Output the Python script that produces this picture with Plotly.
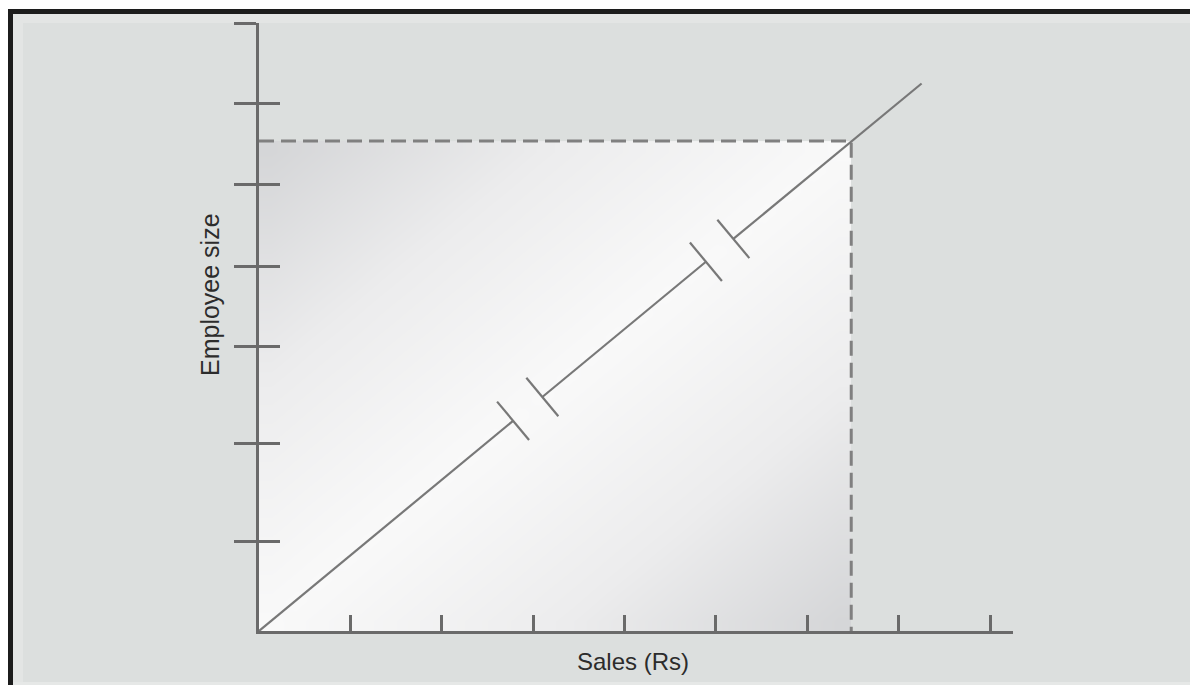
import numpy as np
import plotly.graph_objects as go

# ---------------- data ----------------
x_tick_vals = [1, 2, 3, 4, 5, 6, 7, 8]
y_tick_vals = [0.98, 2.05, 3.11, 3.99, 4.89, 5.77, 6.65]

# trend line with two "break" gaps
trend_x = [0, 2.78, None, 3.10, 4.89, None, 5.19, 7.25]
trend_y = [0, 2.30, None, 2.56, 4.04, None, 4.29, 5.99]

# centres of the break marks on the line
break_x = [2.78, 3.10, 4.89, 5.19]
break_y = [2.30, 2.56, 4.04, 4.29]

# target point (dashed guide lines)
target_x = 6.48
target_y = 5.36

x_range = [0, 8.25]
y_range = [0, 6.652]

x_title = "Sales (Rs)"
y_title = "Employee size"

# ---------------- figure geometry ----------------
OFF = 8  # default page body margin
W, H = 1198 - OFF, 685 - OFF
ML = 259 - OFF
MT = 23 - OFF
MB = H - (631 - OFF)
MR = W - (1013 - OFF)
PW, PH = W - ML - MR, H - MT - MB


def px(xr):
    """reference-image x pixel -> paper coordinate"""
    return (xr - OFF - ML) / PW


def py(yr):
    """reference-image y pixel -> paper coordinate"""
    return (H - MB - (yr - OFF)) / PH


AXIS_COL = "#6a6a6a"
LINE_COL = "#787878"
DASH_COL = "#808080"
BG = "#dcdfde"
TEXT_COL = "#2c2c2c"

fig = go.Figure()

# shaded gradient region (style only)
n = 24
gx = np.linspace(0, target_x, n + 1)
gy = np.linspace(0, target_y, n + 1)
cu = (np.arange(n) + 0.5) / n
U, V = np.meshgrid(cu, cu)
shade = np.abs(U - V)
fig.add_trace(go.Heatmap(
    x=gx, y=gy, z=shade, zsmooth="best", showscale=False, hoverinfo="skip",
    colorscale=[[0, "#f9f9f9"], [0.5, "#ececed"], [1, "#d3d4d6"]], zmin=0, zmax=1,
))

# dashed guides
fig.add_trace(go.Scatter(
    x=[0, target_x, target_x], y=[target_y, target_y, 0], mode="lines",
    line=dict(color=DASH_COL, width=3, dash="15px,7px"), hoverinfo="skip", showlegend=False,
))

# trend line
fig.add_trace(go.Scatter(
    x=trend_x, y=trend_y, mode="lines",
    line=dict(color=LINE_COL, width=2.2), hoverinfo="skip", showlegend=False,
))

# break marks perpendicular to the line
hx, hy = 0.175, 0.21
bx, by = [], []
for cx, cy in zip(break_x, break_y):
    bx += [cx - hx, cx + hx, None]
    by += [cy + hy, cy - hy, None]
fig.add_trace(go.Scatter(
    x=bx, y=by, mode="lines", line=dict(color=LINE_COL, width=2.2),
    hoverinfo="skip", showlegend=False,
))

# a dummy trace on the second y axis so it renders
fig.add_trace(go.Scatter(x=[None], y=[None], yaxis="y2", showlegend=False, hoverinfo="skip"))

# ---------------- frame decoration ----------------
shapes = []


def rect(x0, y0, x1, y1, color):
    shapes.append(dict(type="rect", xref="paper", yref="paper",
                       x0=px(x0), x1=px(x1), y0=py(y1), y1=py(y0),
                       fillcolor=color, line=dict(width=0), layer="below"))


rect(OFF, OFF, 1198, 9, "#ffffff")
rect(8, 9, 1198, 14, "#1c1c1c")
rect(8, 9, 13, 685, "#1c1c1c")
rect(13, 14, 1198, 23, "#e3e5e4")
rect(13, 14, 23, 685, "#e3e5e4")
rect(1191, 14, 1198, 685, "#e4e6e5")
rect(13, 682, 1198, 685, "#e6e8e7")

fig.update_layout(
    width=W, height=H,
    margin=dict(l=ML, r=MR, t=MT, b=MB, pad=0),
    paper_bgcolor=BG, plot_bgcolor="rgba(0,0,0,0)",
    showlegend=False,
    shapes=shapes,
    xaxis=dict(range=x_range, showline=True, linecolor=AXIS_COL, linewidth=2.5,
               ticks="inside", ticklen=16, tickwidth=2.5, tickcolor=AXIS_COL,
               tickmode="array", tickvals=x_tick_vals, showticklabels=False,
               showgrid=False, zeroline=False, fixedrange=True),
    yaxis=dict(range=y_range, showline=True, linecolor=AXIS_COL, linewidth=2.5,
               ticks="outside", ticklen=22, tickwidth=2.5, tickcolor=AXIS_COL,
               tickmode="array", tickvals=y_tick_vals, showticklabels=False,
               showgrid=False, zeroline=False, fixedrange=True),
    yaxis2=dict(range=y_range, overlaying="y", side="left", showline=False,
                ticks="inside", ticklen=21, tickwidth=2.5, tickcolor=AXIS_COL,
                tickmode="array", tickvals=y_tick_vals, showticklabels=False,
                showgrid=False, zeroline=False, fixedrange=True),
    annotations=[
        dict(text=x_title, xref="paper", yref="paper", x=px(633), y=py(662),
             showarrow=False, xanchor="center", yanchor="middle",
             font=dict(family="Liberation Sans, Arial", size=24, color=TEXT_COL)),
        dict(text=y_title, xref="paper", yref="paper", x=px(210), y=py(295),
             showarrow=False, xanchor="center", yanchor="middle", textangle=-90,
             font=dict(family="Liberation Sans, Arial", size=25, color=TEXT_COL)),
    ],
)

fig.write_html("out.html")
